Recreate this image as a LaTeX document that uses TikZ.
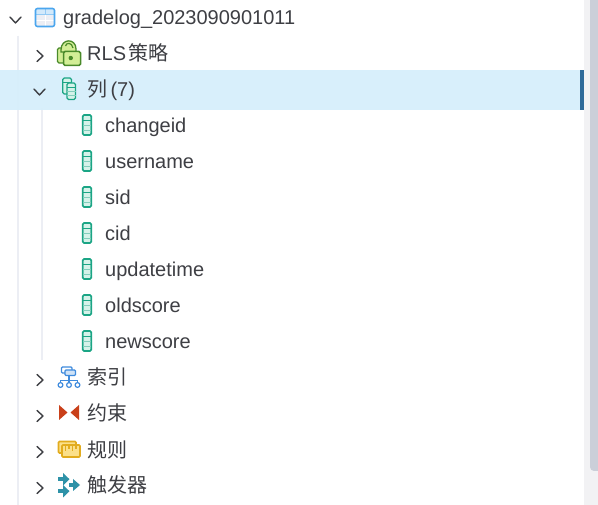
\documentclass[tikz,border=0pt]{standalone}
\usepackage{fontspec}
\setmainfont{Liberation Sans}
\newfontfamily\cjkf{Noto Sans CJK SC}
\definecolor{txt}{HTML}{3E3F44}
\definecolor{guide}{HTML}{ECEEF4}
\definecolor{hl}{HTML}{D6EEFB}
\definecolor{hlbar}{HTML}{2F6A99}
\definecolor{track}{HTML}{F2F2F4}
\definecolor{thumb}{HTML}{CBCFD9}
\definecolor{teal}{HTML}{1BA585}
\definecolor{tealf}{HTML}{D5F2E9}
\definecolor{tblue}{HTML}{4BA6EE}
\definecolor{lockg}{HTML}{4A8A2A}
\definecolor{lockf}{HTML}{D3EE96}
\definecolor{idxb}{HTML}{3F8BDD}
\definecolor{conr}{HTML}{C9401A}
\definecolor{ruley}{HTML}{E2AC1E}
\definecolor{rulef}{HTML}{FBE08A}
\definecolor{trig}{HTML}{2E92A8}
\tikzset{
  x=1pt,y=-1pt,
  lbl/.style={anchor=west,inner sep=0pt,text=txt,font=\fontsize{20}{22}\selectfont,text height=18pt,text depth=4pt},
  chev/.style={draw=txt,line width=1.4pt,line cap=round,line join=round},
  pics/colicon/.style={code={
    \draw[teal,fill=white,line width=1.8pt,rounded corners=1.5pt] (-4.3,-10) rectangle (4.3,10);
    \fill[tealf] (-3.4,-9.1) rectangle (3.4,9.1);
    \draw[teal,line width=1.2pt] (-4,-4.8) -- (4,-4.8);
    \draw[teal!55,line width=.9pt] (-4,0) -- (4,0) (-4,5) -- (4,5);
  }},
  pics/chevr/.style={code={\draw[chev] (-3,-5.5) -- (3,0) -- (-3,5.5);}},
  pics/chevd/.style={code={\draw[chev] (-5.5,-3) -- (0,3) -- (5.5,-3);}}
}
\begin{document}
\begin{tikzpicture}
\useasboundingbox (0,0) rectangle (598,505);
\fill[white] (0,0) rectangle (598,505);
% guides
\draw[guide,line width=2pt] (18,36) -- (18,505);
\draw[guide,line width=2pt] (42,108) -- (42,360);
% selection
\fill[hl,opacity=.93] (0,70) rectangle (580,110);
\fill[hlbar] (580,70) rectangle (584,110);
% scrollbar
\fill[track] (584,0) rectangle (598,505);
\fill[thumb,rounded corners=4pt] (590,-10) rectangle (606,471);
% chevrons
\pic at (15.5,20) {chevd};
\pic at (40,56) {chevr};
\pic at (39.5,92) {chevd};
\pic at (40,380) {chevr};
\pic at (40,416) {chevr};
\pic at (40,452) {chevr};
\pic at (40,488) {chevr};
% labels
\node[lbl] (t0) at (63,18) {gradelog\_2023090901011};
\node[lbl] (t1) at (87,54) {RLS\hspace{2pt}{\cjkf 策略}};
\node[lbl] (t2) at (87,90) {{\cjkf 列}\,(7)};
\node[lbl] (c1) at (105,126) {changeid};
\node[lbl] (c2) at (105,162) {username};
\node[lbl] (c3) at (105,198) {sid};
\node[lbl] (c4) at (105,234) {cid};
\node[lbl] (c5) at (105,270) {updatetime};
\node[lbl] (c6) at (105,306) {oldscore};
\node[lbl] (c7) at (105,342) {newscore};
\node[lbl] (t3) at (87,378) {\cjkf 索引};
\node[lbl] (t4) at (87,414) {\cjkf 约束};
\node[lbl] (t5) at (87,450) {\cjkf 规则};
\node[lbl] (t6) at (87,486) {\cjkf 触发器};
% table icon
\fill[guide] (36,9) rectangle (54,26);
\fill[tblue!25] (36,9) rectangle (54,14.5);
\fill[white] (36,19.6) rectangle (54,21);
\draw[tblue!60,line width=1pt] (36,14.8) -- (54,14.8);
\draw[white,line width=1pt] (45,15) -- (45,26);
\draw[tblue!60,line width=1pt] (45,9) -- (45,15);
\draw[tblue,line width=1.6pt,rounded corners=2pt] (35.5,8.5) rectangle (54.5,26.5);
% lock icon
\draw[lockg,fill=lockf,line width=1.2pt,rounded corners=1.5pt] (57.5,48) rectangle (66,63);
\draw[lockg,fill=lockf,line width=1.3pt] (61,50) .. controls (61,38) and (76,38) .. (76,49) -- (76,52) -- (61,52) -- cycle;
\draw[lockg,line width=1.2pt] (65.5,46) .. controls (66,42.5) and (72,42) .. (73,48);
\draw[lockg,fill=lockf,line width=1.5pt,rounded corners=1.5pt] (63.5,51.5) rectangle (80.5,65.5);
\fill[lockg] (70.8,58) circle (2.2);
% column group icon
\draw[teal,fill=tealf,line width=1.3pt,rounded corners=1.5pt] (62.7,78) rectangle (71.5,94);
\draw[teal,line width=1pt] (63,82.5) -- (71.5,82.5);
\draw[teal,fill=tealf,line width=1.4pt,rounded corners=1.5pt] (67,83) rectangle (75.5,99.5);
\draw[teal,line width=1pt] (67,87.5) -- (75.5,87.5);
\draw[teal!55,line width=.9pt] (67,91.5) -- (75.5,91.5) (67,95.5) -- (75.5,95.5);
% column icons
\pic at (87,125) {colicon};
\pic at (87,161) {colicon};
\pic at (87,197) {colicon};
\pic at (87,233) {colicon};
\pic at (87,269) {colicon};
\pic at (87,305) {colicon};
\pic at (87,341) {colicon};
% index icon
\draw[idxb,line width=1.2pt] (69,375) -- (69,383) (60.5,383) -- (60.5,380.5) -- (77.5,380.5) -- (77.5,383);
\draw[idxb,fill=white,line width=1.2pt,rounded corners=1pt] (61.5,367) rectangle (72,373);
\draw[idxb,fill=idxb!25,line width=1.2pt,rounded corners=1pt] (65,370) rectangle (75.5,375.5);
\foreach \x in {60.5,69,77.5} \draw[idxb,fill=white,line width=1.2pt] (\x,385) circle (2.4);
% constraint icon
\fill[conr] (59,405) -- (67.5,412.5) -- (59,420) -- cycle;
\fill[conr] (79,405) -- (70.5,412.5) -- (79,420) -- cycle;
% rule icon
\draw[ruley,fill=rulef,line width=1.6pt,rounded corners=1pt] (58.5,441.5) rectangle (76,453);
\draw[ruley,fill=rulef,line width=1.6pt,rounded corners=1pt] (62,445) rectangle (80,457);
\draw[ruley,line width=1.2pt] (65.5,445) -- (65.5,451) (69,445) -- (69,449.5) (72.5,445) -- (72.5,451) (76,445) -- (76,449.5);
% trigger icon
\fill[trig] (58,477.5) rectangle (63.5,481);
\fill[trig] (63,473) -- (69.5,479.2) -- (63,485.5) -- cycle;
\fill[trig] (58,489.5) rectangle (63.5,493);
\fill[trig] (63,485) -- (69.5,491.2) -- (63,497.5) -- cycle;
\fill[trig] (69,483.3) rectangle (73.5,486.8);
\fill[trig] (73,479) -- (80,485) -- (73,491) -- cycle;
\end{tikzpicture}
\end{document}
